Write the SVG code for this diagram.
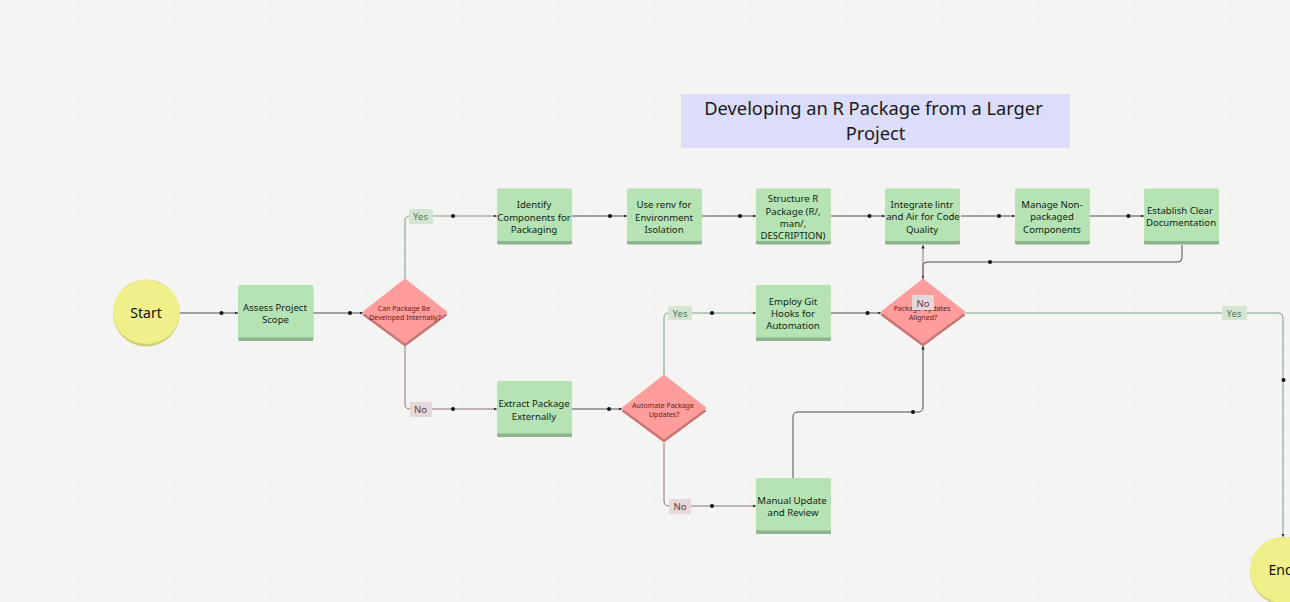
<svg xmlns="http://www.w3.org/2000/svg" width="1290" height="602" viewBox="0 0 1290 602">
<style>
text{font-family:"Noto Sans","Liberation Sans",sans-serif;text-anchor:middle;fill:#0e1f16}
.n text{font-size:9.6px}
.d text{font-size:7px;fill:#5a1c22}
.c{fill:none;stroke:#4f4f4f;stroke-width:1}
.g{stroke:#7d9c82}.r{stroke:#8f7478}
.dot{fill:#111;stroke:none}
.ly{fill:#d5e5d3}.ln{fill:#e6d7d9}
.ty{font-size:9.6px;fill:#4c7a55}.tn{font-size:9.6px;fill:#6b3b40}
</style>
<defs>
<pattern id="bg" width="19.2" height="19.2" patternUnits="userSpaceOnUse"><circle cx="2" cy="2" r=".6" fill="#dedede"/></pattern>
<marker id="a" markerWidth="4" markerHeight="4" refX="3.5" refY="2" orient="auto"><path d="M0 .4L3.500 2L0 3.600Z" fill="#222"/></marker>
<g id="box"><rect y="3" width="75" height="53" rx="1.5" fill="#8fb38f"/><rect width="75" height="52.500" rx="1.5" fill="#b6e3b3"/></g>
<g id="dia"><path d="M0 -31L42 2L0 33L-42 2Z" fill="#c87474" stroke="#c87474" stroke-linejoin="round"/><path d="M0 -34L42 -1L0 30L-42 -1Z" fill="#ff9c9c" stroke="#ff9c9c" stroke-linejoin="round"/></g>
</defs>
<rect width="1290" height="602" fill="#f4f4f3"/>
<rect width="1290" height="602" fill="url(#bg)"/>
<g id="title"><rect x="681" y="94" width="389" height="54" fill="#dcdcfb"/><text x="873.500" y="115" style="font-size:18.300px;fill:#1a1a1a">Developing an R Package from a Larger</text><text x="875.500" y="140" style="font-size:18.300px;fill:#1a1a1a">Project</text></g>
<g id="connectors">
<path class="c" marker-end="url(#a)" d="M180 313H238"/>
<path class="c" marker-end="url(#a)" d="M313 313H363"/>
<path class="c g" marker-end="url(#a)" d="M405 279V221Q405 216 410 216H497"/>
<path class="c r" marker-end="url(#a)" d="M405 346V404Q405 409 410 409H497"/>
<path class="c" marker-end="url(#a)" d="M572 216H627"/>
<path class="c" marker-end="url(#a)" d="M702 216H756"/>
<path class="c" marker-end="url(#a)" d="M831 216H885"/>
<path class="c" marker-end="url(#a)" d="M961 216H1015"/>
<path class="c" marker-end="url(#a)" d="M1090 216H1144"/>
<path class="c" marker-end="url(#a)" d="M572 409H622"/>
<path class="c g" marker-end="url(#a)" d="M664 376V318Q664 313 669 313H756"/>
<path class="c r" marker-end="url(#a)" d="M664 443V501Q664 506 669 506H756"/>
<path class="c" marker-end="url(#a)" d="M831 313H881"/>
<path class="c" marker-end="url(#a)" d="M793 478V417Q793 412 798 412H918Q923 412 923 407V346"/>
<path class="c" marker-end="url(#a)" d="M1182 245V258Q1182 262 1178 262H927Q923 262 923 266V279"/>
<path class="c r" marker-end="url(#a)" d="M923 279V245"/>
<path class="c g" marker-end="url(#a)" d="M965 313H1278Q1283 313 1283 318V537"/>
<circle class="dot" cx="221.500" cy="313" r="2"/><circle class="dot" cx="350" cy="313" r="2"/><circle class="dot" cx="453" cy="216" r="2"/><circle class="dot" cx="453" cy="409" r="2"/><circle class="dot" cx="610" cy="216" r="2"/><circle class="dot" cx="740" cy="216" r="2"/><circle class="dot" cx="869.500" cy="216" r="2"/><circle class="dot" cx="999" cy="216" r="2"/><circle class="dot" cx="1128.500" cy="216" r="2"/><circle class="dot" cx="609" cy="409" r="2"/><circle class="dot" cx="712" cy="313" r="2"/><circle class="dot" cx="712" cy="506" r="2"/><circle class="dot" cx="867.500" cy="313" r="2"/><circle class="dot" cx="913" cy="412" r="2"/><circle class="dot" cx="990" cy="262" r="2"/><circle class="dot" cx="1283.500" cy="380" r="2"/>
<rect class="ly" x="409" y="209" width="24" height="15"/><text class="ty" x="420.500" y="219.500">Yes</text>
<rect class="ln" x="410" y="402" width="22" height="15"/><text class="tn" x="420.500" y="413">No</text>
<rect class="ly" x="668" y="306" width="24" height="14"/><text class="ty" x="680" y="316.500">Yes</text>
<rect class="ln" x="669" y="499" width="22" height="15"/><text class="tn" x="680" y="510">No</text>
<rect class="ly" x="1222" y="306" width="25" height="14"/><text class="ty" x="1234" y="316.500">Yes</text>
</g>
<g id="start"><circle cx="146.300" cy="313" r="33.500" fill="#cfcf74"/><ellipse cx="146.300" cy="312" rx="33.500" ry="32" fill="#eff08a"/><text x="146" y="318" style="font-size:14px;fill:#111">Start</text></g>
<g id="assess" class="n"><use href="#box" x="238.300" y="285"/><text x="275" y="311">Assess Project</text><text x="275.500" y="323">Scope</text></g>
<g id="can" class="d"><use href="#dia" x="405" y="313"/><text x="404" y="311">Can Package Be</text><text x="405" y="320">Developed Internally?</text></g>
<g id="identify" class="n"><use href="#box" x="497" y="188.500"/><text x="534" y="208">Identify</text><text x="534" y="221">Components for</text><text x="534" y="233">Packaging</text></g>
<g id="renv" class="n"><use href="#box" x="627" y="188.500"/><text x="664" y="208">Use renv for</text><text x="664" y="221">Environment</text><text x="664" y="233">Isolation</text></g>
<g id="structure" class="n"><use href="#box" x="756" y="188.500"/><text x="793" y="202">Structure R</text><text x="793" y="215">Package (R/,</text><text x="793" y="227">man/,</text><text x="793" y="239">DESCRIPTION)</text></g>
<g id="lintr" class="n"><use href="#box" x="885" y="188.500"/><text x="922" y="208">Integrate lintr</text><text x="923" y="220">and Air for Code</text><text x="922" y="233">Quality</text></g>
<g id="manage" class="n"><use href="#box" x="1015" y="188.500"/><text x="1052" y="208">Manage Non-</text><text x="1052" y="220">packaged</text><text x="1052" y="233">Components</text></g>
<g id="docs" class="n"><use href="#box" x="1144" y="188.500"/><text x="1180" y="214">Establish Clear</text><text x="1181" y="226">Documentation</text></g>
<g id="extract" class="n"><use href="#box" x="497" y="381"/><text x="534" y="407">Extract Package</text><text x="534" y="420">Externally</text></g>
<g id="automate" class="d"><use href="#dia" x="664" y="409"/><text x="663" y="408">Automate Package</text><text x="664" y="417">Updates?</text></g>
<g id="hooks" class="n"><use href="#box" x="756" y="285"/><text x="793" y="304.500">Employ Git</text><text x="793" y="317">Hooks for</text><text x="793" y="329">Automation</text></g>
<g id="manual" class="n"><use href="#box" x="756" y="478"/><text x="792" y="504">Manual Update</text><text x="793" y="516">and Review</text></g>
<g id="aligned" class="d"><use href="#dia" x="923" y="313"/><text x="922" y="311">Package Updates</text><text x="923" y="320">Aligned?</text><rect x="912" y="295" width="22" height="15" fill="#e6d7d9"/><text x="923" y="306.500" style="font-size:9.600px;fill:#6b3b40">No</text></g>
<g id="end"><circle cx="1284" cy="571" r="34" fill="#cfcf74"/><ellipse cx="1284" cy="570" rx="34" ry="33" fill="#eff08a"/><text x="1281" y="575" style="font-size:14px;fill:#111">End</text></g>
</svg>
